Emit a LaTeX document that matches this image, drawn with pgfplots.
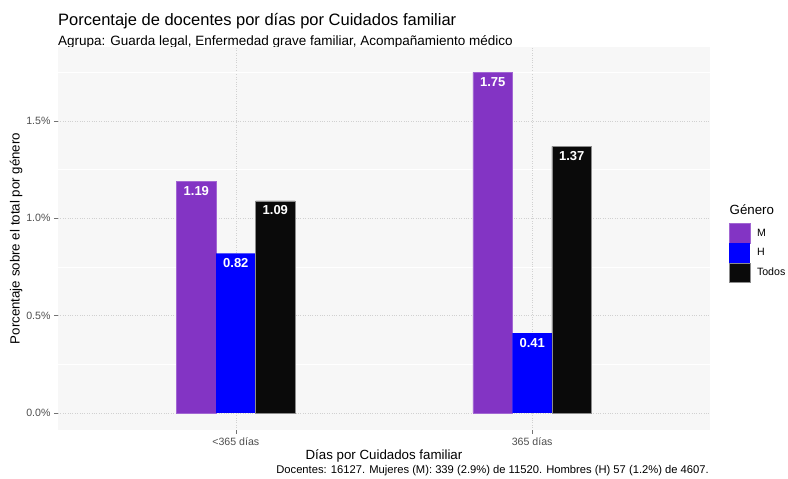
\documentclass[border=0pt]{standalone}
\usepackage{fontspec}
\setmainfont{Liberation Sans}
\usepackage{pgfplots}
\pgfplotsset{compat=1.18}

\definecolor{cM}{RGB}{131,52,196}
\definecolor{cH}{RGB}{0,0,255}
\definecolor{cT}{RGB}{10,10,10}
\definecolor{panel}{RGB}{247,247,247}
\definecolor{txtgrey}{RGB}{77,77,77}
\newcommand{\fs}[1]{\fontsize{#1}{#1}\selectfont}

\pgfplotsset{
  keyimg/.style={legend image code/.code={
      \path (0pt,-9.8pt) rectangle (20.5pt,9.8pt);
      \fill[##1, draw=none] (0.3pt,-9pt) rectangle (20.3pt,9pt);}},
}

% bars placed at their dodged positions: category 1 and 2, offsets -0.1333, 0, +0.1333
\begin{document}
\begin{tikzpicture}[x=1pt,y=1pt]
\path[use as bounding box] (0,0) rectangle (788,479);

% titles
\node[anchor=base west, inner sep=0pt, font=\fs{16.5}] at (58,453) {Porcentaje de docentes por días por Cuidados familiar};
\node[anchor=base west, inner sep=0pt, font=\fs{13.5}] at (58,433.5) {Agrupa: Guarda legal, Enfermedad grave familiar, Acompañamiento médico};

\begin{axis}[
  at={(58pt,49pt)}, anchor=south west,
  scale only axis, width=652pt, height=383pt,
  xmin=0.4, xmax=2.6, ymin=-0.0875, ymax=1.88,
  axis background/.style={fill=panel},
  axis line style={draw=none},
  xtick={1,2}, xticklabels={<365 días,365 días},
  ytick={0,0.5,1,1.5}, yticklabels={0.0\%,0.5\%,1.0\%,1.5\%},
  minor ytick={0.25,0.75,1.25,1.75},
  tick pos=left, tick align=outside,
  major tick length=4pt, minor tick length=0pt,
  tick style={black!55, line width=0.5pt},
  xmajorgrids, ymajorgrids, yminorgrids,
  major grid style={dotted, black!18, line width=0.6pt},
  minor grid style={white, line width=0.9pt},
  ticklabel style={font=\fs{10.6}, text=txtgrey},
  xlabel={Días por Cuidados familiar},
  ylabel={Porcentaje sobre el total por género},
  label style={font=\fs{13.3}},
  xlabel style={yshift=3pt},
  ylabel style={yshift=-3pt},
  /pgf/number format/assume math mode=true,
  legend style={at={(1.029,0.5405)}, anchor=north west, draw=none, fill=none,
    font=\fs{10.6}, inner sep=0pt, row sep=0pt, nodes={inner sep=0pt},
    /tikz/every odd column/.append style={column sep=7pt}},
  legend cell align=left,
  nodes near coords={\pgfmathprintnumber[fixed,fixed zerofill,precision=2]{\pgfplotspointmeta}},
  every node near coord/.append style={anchor=north, yshift=-1.5pt, text=white, font=\bfseries\fs{13}},
]
\addplot[ybar, bar width=0.1333, bar shift=0, fill=cM, draw=cM!75!white, line width=0.4pt, keyimg]
  coordinates {(0.8667,1.19) (1.8667,1.75)};
\addlegendentry{M}
\addplot[ybar, bar width=0.1333, bar shift=0, fill=cH, draw=none, keyimg]
  coordinates {(1.0,0.82) (2.0,0.41)};
\addlegendentry{H}
\addplot[ybar, bar width=0.1333, bar shift=0, fill=cT, draw=black!45, line width=0.4pt, keyimg]
  coordinates {(1.1333,1.09) (2.1333,1.37)};
\addlegendentry{Todos}
\end{axis}

\node[anchor=base west, inner sep=0pt, font=\fs{13.3}] at (729.5,264) {Género};
\node[anchor=base east, inner sep=0pt, font=\fs{11.2}] at (709,5) {Docentes: 16127. Mujeres (M): 339 (2.9\%) de 11520. Hombres (H) 57 (1.2\%) de 4607.};
\end{tikzpicture}
\end{document}
